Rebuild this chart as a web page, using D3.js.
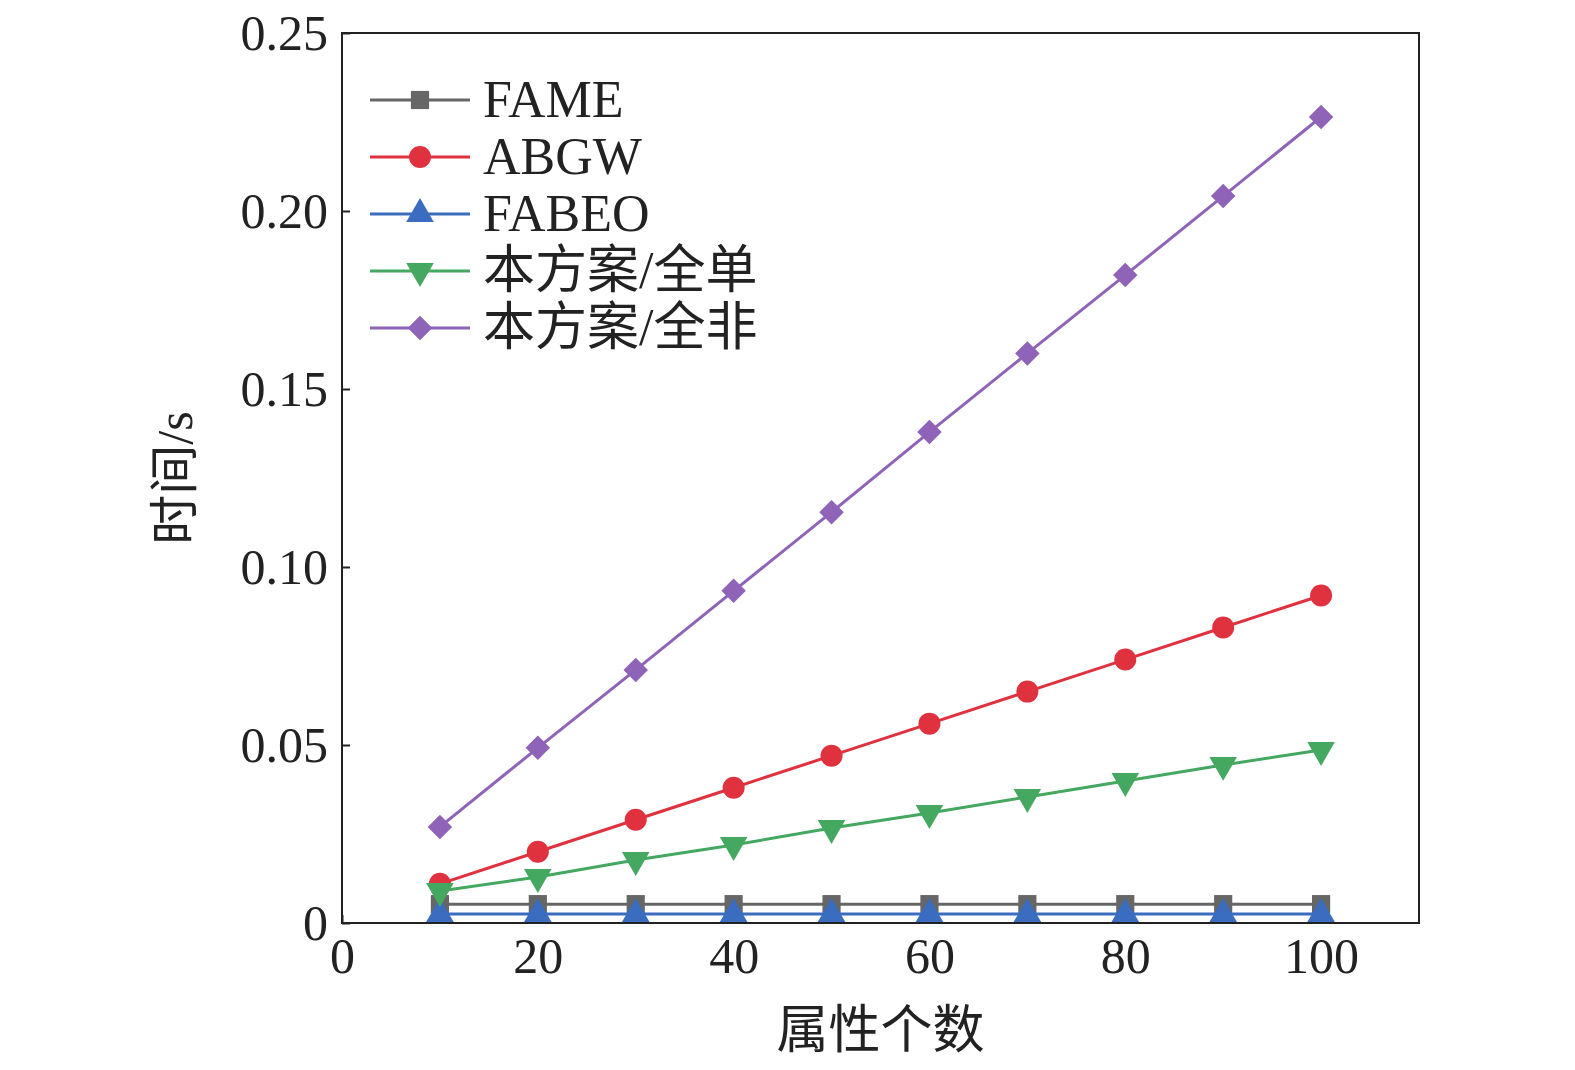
<!DOCTYPE html>
<html><head><meta charset="utf-8">
<script src="https://cdn.jsdelivr.net/npm/d3@7"></script>
<style>html,body{margin:0;background:#fff;overflow:hidden}svg{display:block}text{font-family:"Liberation Serif","Noto Sans CJK SC",serif;fill:#222}</style>
</head><body><svg id="c" width="1575" height="1070"></svg>
<script>
var xs = [10,20,30,40,50,60,70,80,90,100];
var fame  = [0.0053,0.0053,0.0053,0.0053,0.0053,0.0053,0.0053,0.0053,0.0053,0.0053];
var abgw  = [0.011,0.020,0.029,0.038,0.047,0.056,0.065,0.074,0.083,0.092];
var fabeo = [0.0025,0.0025,0.0025,0.0025,0.0025,0.0025,0.0025,0.0025,0.0025,0.0025];
var oursSingle = [0.009,0.0129,0.0177,0.0219,0.0267,0.0309,0.0354,0.0399,0.0444,0.0486];
var oursAll = [0.027,0.0492,0.0711,0.0933,0.1154,0.1379,0.160,0.182,0.2042,0.2264];
var names = ["FAME","ABGW","FABEO","本方案/全单","本方案/全非"];
var xTicks = [0,20,40,60,80,100];
var yTicks = [0,0.05,0.10,0.15,0.20,0.25];

var series = [
	{ name: names[0], vals: fame, color: "#666666", sym: d3.symbolSquare, size: 330 },
	{ name: names[1], vals: abgw, color: "#e0313f", sym: d3.symbolCircle, size: 380 },
	{ name: names[2], vals: fabeo, color: "#3a6cc0", sym: d3.symbolTriangle, size: 330 },
	{ name: names[3], vals: oursSingle, color: "#44a860", sym: d3.symbolTriangle, size: 330, flip: true },
	{ name: names[4], vals: oursAll, color: "#8e63b8", sym: d3.symbolSquare, size: 300, rot: 45 }
];

var svg = d3.select("#c");
var L = 342, R = 1419, T = 33, B = 923;
var x = d3.scaleLinear().domain([0,110]).range([L,R]);
var y = d3.scaleLinear().domain([0,0.25]).range([B,T]);

//
// Axes
//
var gx = svg.append("g").attr("transform","translate(0,"+B+")")
	.call(d3.axisBottom(x).tickValues(xTicks).tickSize(-8).tickPadding(14).tickFormat(d3.format("d")));
var gy = svg.append("g").attr("transform","translate("+L+",0)")
	.call(d3.axisLeft(y).tickValues(yTicks).tickSize(-8).tickPadding(14)
		.tickFormat(function(d){ return d === 0 ? "0" : d3.format(".2f")(d); }));
[gx,gy].forEach(function(g){
	g.select(".domain").remove();
	g.selectAll("line").attr("stroke","#222").attr("stroke-width",2);
	g.selectAll("text").style("font-size","50px").attr("fill","#222");
});
svg.append("rect").attr("x",L).attr("y",T).attr("width",R-L).attr("height",B-T)
	.attr("fill","none").attr("stroke","#222").attr("stroke-width",2);

svg.append("text").attr("x",(L+R)/2).attr("y",1048).attr("text-anchor","middle")
	.style("font-size","52px").text("属性个数");
svg.append("text").attr("transform","translate(192,478) rotate(-90)").attr("text-anchor","middle")
	.style("font-size","50px").text("时间/s");

//
// Lines and markers
//
function tf(s){ return s.flip ? " rotate(180)" : (s.rot ? " rotate("+s.rot+")" : ""); }
var line = d3.line().x(function(d,i){ return x(xs[i]); }).y(function(d){ return y(d); });
series.forEach(function(s){
	svg.append("path").datum(s.vals).attr("d",line).attr("fill","none")
		.attr("stroke",s.color).attr("stroke-width",3);
	svg.selectAll(null).data(s.vals).enter().append("path")
		.attr("d",d3.symbol().type(s.sym).size(s.size))
		.attr("transform",function(d,i){ return "translate("+x(xs[i])+","+y(d)+")"+tf(s); })
		.attr("fill",s.color);
});

//
// Legend
//
series.forEach(function(s,i){
	var yy = 100 + i*57;
	svg.append("line").attr("x1",370).attr("x2",470).attr("y1",yy).attr("y2",yy)
		.attr("stroke",s.color).attr("stroke-width",3);
	svg.append("path").attr("d",d3.symbol().type(s.sym).size(s.size))
		.attr("transform","translate(420,"+yy+")"+tf(s)).attr("fill",s.color);
	svg.append("text").attr("x",483).attr("y",yy+17).style("font-size","52px").text(s.name);
});
</script></body></html>
